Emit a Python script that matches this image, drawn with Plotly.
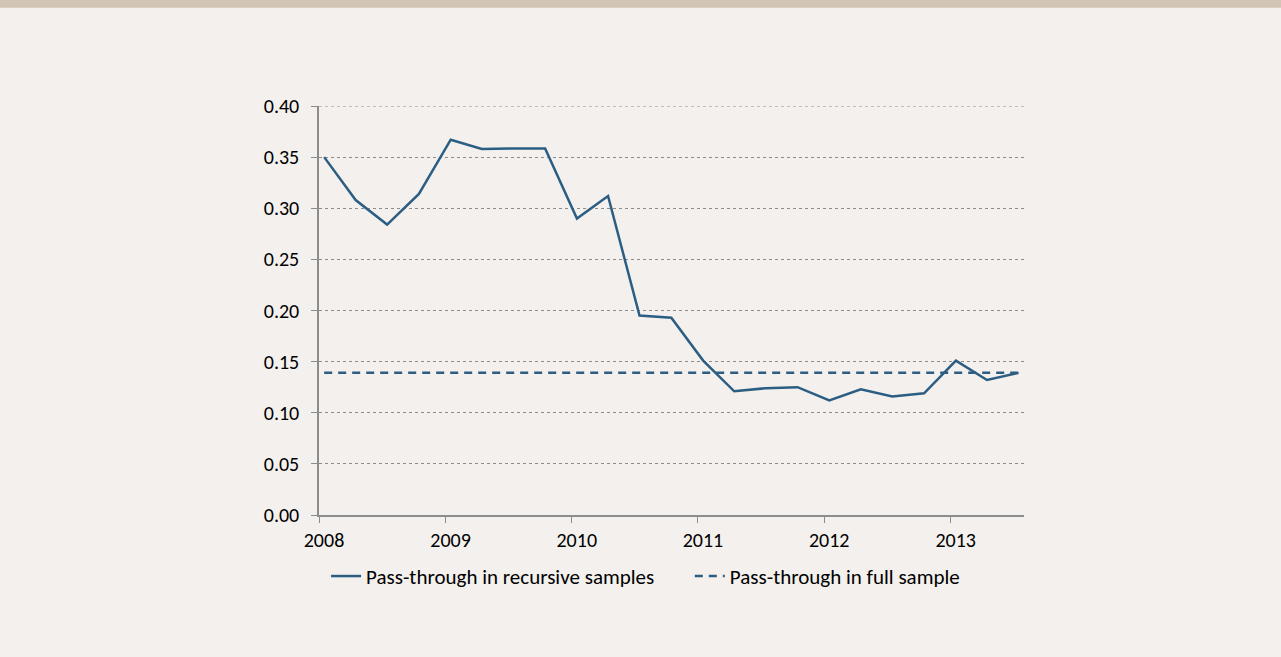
import plotly.graph_objects as go

# quarterly observations, placed mid-month like the Excel date axis
dates = [
    "2008-01-16", "2008-04-16", "2008-07-16", "2008-10-16",
    "2009-01-16", "2009-04-16", "2009-07-16", "2009-10-16",
    "2010-01-16", "2010-04-16", "2010-07-16", "2010-10-16",
    "2011-01-16", "2011-04-16", "2011-07-16", "2011-10-16",
    "2012-01-16", "2012-04-16", "2012-07-16", "2012-10-16",
    "2013-01-16", "2013-04-16", "2013-07-16",
]
recursive = [
    0.350, 0.308, 0.284, 0.314,
    0.367, 0.358, 0.3585, 0.3585,
    0.290, 0.312, 0.195, 0.193,
    0.151, 0.121, 0.124, 0.125,
    0.112, 0.123, 0.116, 0.119,
    0.151, 0.132, 0.139,
]
full_sample = [0.139] * len(dates)

year_ticks = ["2008-01-01", "2009-01-01", "2010-01-01",
              "2011-01-01", "2012-01-01", "2013-01-01"]
year_labels = ["2008", "2009", "2010", "2011", "2012", "2013"]

y_max = 0.40
line_color = "#2c5d83"
grid_color = "#8c8c8c"
font_family = "Carlito, Lato, sans-serif"

fig = go.Figure()

fig.add_trace(go.Scatter(
    x=dates, y=recursive, mode="lines",
    name="Pass-through in recursive samples",
    line=dict(color=line_color, width=2.5),
    legend="legend",
))

fig.add_trace(go.Scatter(
    x=dates, y=full_sample, mode="lines",
    name="Pass-through in full sample",
    line=dict(color=line_color, width=2.5, dash="8px,6px"),
    legend="legend2",
))

# darker band along the top edge
fig.add_shape(
    type="rect", xref="paper", yref="paper",
    x0=-0.5, x1=1.5, y0=1.24, y1=1.3,
    fillcolor="#d3c5b5", line_width=0, layer="below",
)

# top gridline, plotly drops the one on the plot edge
fig.add_shape(
    type="line", xref="paper", yref="y",
    x0=0, x1=1, y0=y_max, y1=y_max,
    line=dict(color=grid_color, width=1, dash="dot"), layer="below",
)

legend_style = dict(
    orientation="h", xanchor="left",
    y=-0.1, yanchor="top",
    bgcolor="rgba(0,0,0,0)", itemwidth=30,
    font=dict(size=21),
)

fig.update_layout(
    width=1281, height=657,
    paper_bgcolor="#f3f0ed",
    plot_bgcolor="#f3f0ed",
    margin=dict(l=319, r=257, t=106, b=142),
    font=dict(family=font_family, size=20, color="#000000"),
    showlegend=True,
    legend=dict(x=0.01, **legend_style),
    legend2=dict(x=0.526, **legend_style),
)

fig.update_xaxes(
    type="date",
    range=["2008-01-01", "2013-08-01"],
    tickvals=year_ticks, ticktext=year_labels,
    ticklabelshift=5,
    showgrid=False,
    showline=True, linecolor=grid_color, linewidth=1.5,
    ticks="outside", ticklen=6, tickcolor=grid_color,
)

fig.update_yaxes(
    range=[0, y_max], dtick=0.05, tickformat=".2f",
    showgrid=True, gridcolor=grid_color, griddash="dot", gridwidth=1,
    zeroline=False,
    showline=True, linecolor=grid_color, linewidth=1.5,
    ticks="outside", ticklen=6, tickcolor=grid_color,
    ticklabelstandoff=8,
)

fig.write_html(
    "out.html",
    config={"displayModeBar": False},
    post_script="document.body.style.margin='0';",
)
